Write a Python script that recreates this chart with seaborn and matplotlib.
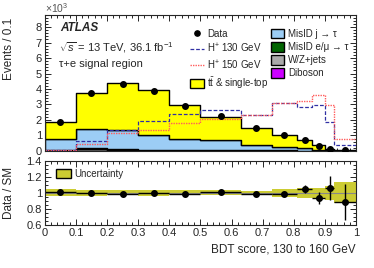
import numpy as np
import pandas as pd
import matplotlib
matplotlib.use("Agg")
import matplotlib.pyplot as plt
from matplotlib.ticker import MultipleLocator
from matplotlib.patches import Patch
from matplotlib.lines import Line2D
import seaborn as sns

sns.set_style("ticks")
plt.rcParams['font.family'] = ['Liberation Sans', 'DejaVu Sans']
plt.rcParams['mathtext.fontset'] = 'custom'
plt.rcParams['mathtext.rm'] = 'Liberation Sans'
plt.rcParams['mathtext.it'] = 'Liberation Sans:italic'

# bin edges of the BDT score (variable width)
edges = [0.0, 0.1, 0.2, 0.3, 0.4, 0.5, 0.63, 0.73, 0.81, 0.86, 0.9, 0.93, 1.0]

# events / 0.1, in units of 10^3
ttbar = [1.05, 2.33, 3.05, 2.85, 2.18, 1.54, 1.12, 0.79, 0.51, 0.27, 0.07, 0.022]
misid_j = [0.71, 1.25, 1.22, 0.97, 0.71, 0.62, 0.32, 0.21, 0.15, 0.08, 0.03, 0.01]
misid_l = [0.04, 0.05, 0.06, 0.05, 0.04, 0.03, 0.02, 0.015, 0.01, 0.005, 0.002, 0.001]
wzjets = [0.03, 0.10, 0.04, 0.03, 0.03, 0.02, 0.01, 0.01, 0.005, 0.003, 0.001, 0.0005]
diboson = [0.005, 0.006, 0.006, 0.005, 0.004, 0.003, 0.002, 0.001, 0.001, 0.0005, 0.0002, 0.0001]
hplus130 = [0.08, 0.65, 1.35, 1.93, 2.38, 2.64, 2.32, 3.12, 2.81, 2.98, 1.86, 0.40]
hplus150 = [0.06, 0.42, 1.13, 1.36, 1.80, 2.05, 2.30, 3.12, 3.25, 3.64, 2.99, 0.76]
data = [1.84, 3.72, 4.33, 3.90, 2.92, 2.23, 1.45, 1.02, 0.71, 0.34, 0.11, 0.03]

# ratio panel
ratio = [1.006, 0.997, 0.99, 1.0, 0.985, 1.01, 0.985, 0.99, 1.046, 0.935, 1.055, 0.885]
ratio_err = [0.008, 0.006, 0.006, 0.006, 0.007, 0.008, 0.01, 0.012, 0.05, 0.07, 0.15, 0.22]
band = [0.045, 0.035, 0.03, 0.035, 0.03, 0.03, 0.028, 0.05, 0.062, 0.064, 0.085, 0.13]

edge_arr = np.array(edges)
centers = 0.5 * (edge_arr[:-1] + edge_arr[1:])
halfw = 0.5 * np.diff(edge_arr)

procs = ["ttbar", "misid_j", "misid_l", "wzjets", "diboson"]
colors = {"ttbar": "#ffff00", "misid_j": "#9ccdf5", "misid_l": "#006400",
          "wzjets": "#aaaaaa", "diboson": "#cc00ff"}
vals = {"ttbar": ttbar, "misid_j": misid_j, "misid_l": misid_l,
        "wzjets": wzjets, "diboson": diboson}
df = pd.DataFrame([{"x": c, "w": vals[p][i], "proc": p}
                   for p in procs for i, c in enumerate(centers)])

fig = plt.figure(figsize=(3.74, 2.68), dpi=100)
ax = fig.add_axes([0.1195, 0.437, 0.8325, 0.508])
rax = fig.add_axes([0.1195, 0.1604, 0.8325, 0.2406])

sns.histplot(data=df, x="x", weights="w", hue="proc", hue_order=procs, bins=edges,
             multiple="stack", element="step", palette=colors, alpha=1,
             edgecolor="black", linewidth=1.0, legend=False, ax=ax)

sig = pd.DataFrame({"x": centers, "h130": hplus130, "h150": hplus150})
sns.histplot(data=sig, x="x", weights="h130", bins=edges, element="step", fill=False,
             color="#3030a4", linestyle=(0, (3, 1.5)), linewidth=0.9, ax=ax)
sns.histplot(data=sig, x="x", weights="h150", bins=edges, element="step", fill=False,
             color="#ff5c5c", linestyle=(0, (1, 0.8)), linewidth=1.0, ax=ax)

ax.errorbar(centers, data, yerr=np.sqrt(np.array(data) / 1000.0) * 1.5, fmt="o",
            color="black", markersize=4, elinewidth=1, zorder=10)

ax.set_xlim(0, 1)
ax.set_ylim(0, 8.8)
ax.set_xlabel("")
ax.set_ylabel("Events / 0.1", fontsize=8.5, loc="top")
ax.yaxis.set_label_coords(-0.095, 0.98)
ax.xaxis.set_major_locator(MultipleLocator(0.1))
ax.xaxis.set_minor_locator(MultipleLocator(0.02))
ax.yaxis.set_major_locator(MultipleLocator(1))
ax.yaxis.set_minor_locator(MultipleLocator(0.2))
ax.tick_params(axis="x", labelbottom=False)
ax.text(0.0, 1.0, r"$\times10^{3}$", transform=ax.transAxes, fontsize=7.5,
        ha="left", va="bottom", color="#555555")

ax.text(0.05, 0.90, "ATLAS", transform=ax.transAxes, fontsize=8.5,
        fontweight="bold", fontstyle="italic", va="center")
ax.text(0.045, 0.755, r"$\sqrt{s}$ = 13 TeV, 36.1 fb$^{-1}$", transform=ax.transAxes,
        fontsize=8, va="center")
ax.text(0.045, 0.64, "τ+e signal region", transform=ax.transAxes, fontsize=8, va="center")

h1 = [Line2D([], [], marker="o", color="black", ls="none", markersize=3.8),
      Line2D([], [], color="#3030a4", ls=(0, (3, 1.5)), lw=0.9),
      Line2D([], [], color="#ff5c5c", ls=(0, (1, 0.8)), lw=1.0),
      Patch(facecolor="#ffff00", edgecolor="black")]
l1 = ["Data", r"H$^{+}$ 130 GeV", r"H$^{+}$ 150 GeV", r"t$\bar{\rm t}$ & single-top"]
h2 = [Patch(facecolor=colors[p], edgecolor="black") for p in ["misid_j", "misid_l", "wzjets", "diboson"]]
l2 = ["MisID j → τ", "MisID e/μ → τ", "W/Z+jets", "Diboson"]
leg_kw = dict(loc="upper left", frameon=False, fontsize=7, handlelength=1.4,
              handleheight=1.1, handletextpad=0.35, labelspacing=0.32,
              borderpad=0, borderaxespad=0)
leg1 = ax.legend(h1, l1, bbox_to_anchor=(0.467, 0.895), **leg_kw)
ax.add_artist(leg1)
ax.legend(h2, l2, bbox_to_anchor=(0.726, 0.895), **leg_kw)

# ratio panel
rax.bar(edge_arr[:-1], 2 * np.array(band), bottom=1 - np.array(band), width=np.diff(edge_arr),
        align="edge", color="#cccc33", edgecolor="none")
rax.axhline(1, color="#888888", lw=0.8)
rax.errorbar(centers, ratio, xerr=halfw, yerr=ratio_err, fmt="o", color="black",
             markersize=4, elinewidth=1, capsize=0)
rax.set_xlim(0, 1)
rax.set_ylim(0.6, 1.4)
rax.xaxis.set_minor_locator(MultipleLocator(0.02))
rax.yaxis.set_minor_locator(MultipleLocator(0.05))
rax.set_ylabel("Data / SM", fontsize=8.5)
rax.yaxis.set_label_coords(-0.095, 0.5)
rax.set_xlabel("BDT score, 130 to 160 GeV", fontsize=8.5, loc="right")
rax.xaxis.set_label_coords(1.0, -0.28)
rax.set_yticks([0.6, 0.8, 1.0, 1.2, 1.4])
rax.set_yticklabels(["0.6", "0.8", "1", "1.2", "1.4"])
rax.set_xticks(np.arange(0, 1.01, 0.1))
rax.set_xticklabels(["0", "0.1", "0.2", "0.3", "0.4", "0.5", "0.6", "0.7", "0.8", "0.9", "1"])
rax.legend([Patch(facecolor="#cccc33", edgecolor="black")], ["Uncertainty"],
           loc="upper left", bbox_to_anchor=(0.035, 0.87), frameon=False, fontsize=7,
           handlelength=1.6, handleheight=1.1, handletextpad=0.35, borderpad=0, borderaxespad=0)

for a in (ax, rax):
    a.tick_params(which="both", direction="in", top=True, right=True, labelsize=8,
                  width=0.7, pad=2)
    a.tick_params(which="major", length=4.5)
    a.tick_params(which="minor", length=2.3)
    for s in a.spines.values():
        s.set_linewidth(0.8)

fig.savefig("out.png", dpi=100)
